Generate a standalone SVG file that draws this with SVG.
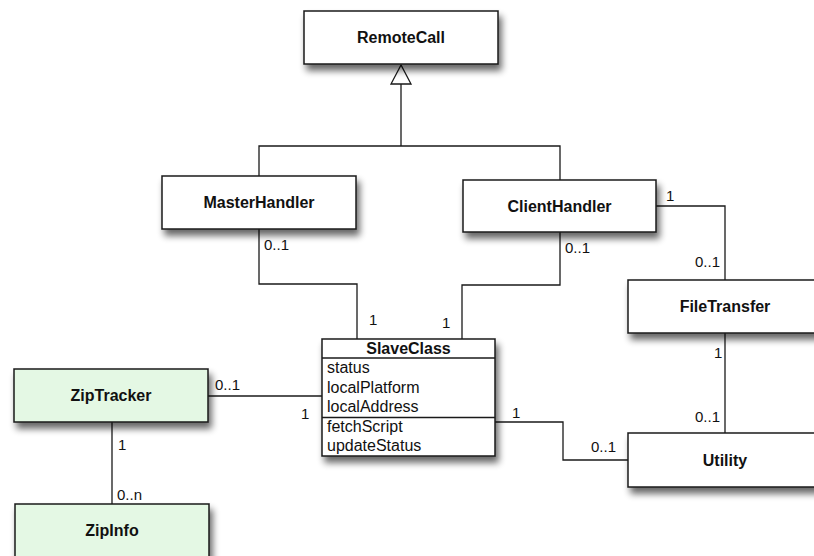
<svg xmlns="http://www.w3.org/2000/svg" width="814" height="556" viewBox="0 0 814 556">
  <defs>
    <filter id="shadow" x="-10%" y="-20%" width="130%" height="160%">
      <feGaussianBlur in="SourceAlpha" stdDeviation="3.5"/>
      <feOffset dx="3" dy="6" result="b"/>
      <feComponentTransfer><feFuncA type="linear" slope="0.6"/></feComponentTransfer>
      <feMerge><feMergeNode/><feMergeNode in="SourceGraphic"/></feMerge>
    </filter>
    <style>
      .box { fill: #ffffff; stroke: #1a1a1a; stroke-width: 1.5; }
      .green { fill: #e4f8e4; }
      .title { font-family: "Liberation Sans", Arial, sans-serif; font-size: 16px; font-weight: bold; fill: #111; text-anchor: middle; }
      .attr { font-family: "Liberation Sans", Arial, sans-serif; font-size: 16px; fill: #111; }
      .mult { font-family: "Liberation Sans", Arial, sans-serif; font-size: 15px; fill: #111; }
      .conn { fill: none; stroke: #1a1a1a; stroke-width: 1.3; }
      .sep { stroke: #1a1a1a; stroke-width: 1.3; }
    </style>
  </defs>
  <rect width="814" height="556" fill="#ffffff"/>

  <g id="connectors">
    <path class="conn" d="M259,176 V146 H560 V180 M401,146 V84"/>
    <polygon points="401,65 391,84 411,84" fill="#ffffff" stroke="#1a1a1a" stroke-width="1.3"/>
    <path class="conn" d="M259,229 V284 H357 V339"/>
    <path class="conn" d="M560,232 V285 H462 V339"/>
    <path class="conn" d="M656,206 H725 V280"/>
    <path class="conn" d="M725,333 V433"/>
    <path class="conn" d="M495,422 H563 V460 H628"/>
    <path class="conn" d="M208,396 H322"/>
    <path class="conn" d="M112,422 V504"/>
    <text class="mult" x="264" y="250">0..1</text>
    <text class="mult" x="369" y="325">1</text>
    <text class="mult" x="565" y="253">0..1</text>
    <text class="mult" x="442" y="328">1</text>
    <text class="mult" x="666" y="201">1</text>
    <text class="mult" x="695" y="267">0..1</text>
    <text class="mult" x="714" y="358">1</text>
    <text class="mult" x="695" y="422">0..1</text>
    <text class="mult" x="512" y="418">1</text>
    <text class="mult" x="591" y="452">0..1</text>
    <text class="mult" x="215" y="390">0..1</text>
    <text class="mult" x="301" y="419">1</text>
    <text class="mult" x="118" y="450">1</text>
    <text class="mult" x="117" y="500">0..n</text>
  </g>

  <g id="RemoteCall">
    <rect class="box" x="304" y="11" width="194" height="53" filter="url(#shadow)"/>
    <text class="title" x="401" y="43">RemoteCall</text>
  </g>
  <g id="MasterHandler">
    <rect class="box" x="162" y="176" width="194" height="53" filter="url(#shadow)"/>
    <text class="title" x="259" y="208">MasterHandler</text>
  </g>
  <g id="ClientHandler">
    <rect class="box" x="463" y="180" width="193" height="52" filter="url(#shadow)"/>
    <text class="title" x="559.5" y="212">ClientHandler</text>
  </g>
  <g id="FileTransfer">
    <rect class="box" x="628" y="280" width="194" height="53" filter="url(#shadow)"/>
    <text class="title" x="725" y="312">FileTransfer</text>
  </g>
  <g id="Utility">
    <rect class="box" x="628" y="433" width="194" height="54" filter="url(#shadow)"/>
    <text class="title" x="725" y="466">Utility</text>
  </g>
  <g id="ZipTracker">
    <rect class="box green" x="14" y="369" width="194" height="53" filter="url(#shadow)"/>
    <text class="title" x="111" y="401">ZipTracker</text>
  </g>
  <g id="ZipInfo">
    <rect class="box green" x="15" y="504" width="194" height="60" filter="url(#shadow)"/>
    <text class="title" x="112" y="536">ZipInfo</text>
  </g>
  <g id="SlaveClass">
    <rect class="box" x="322" y="339" width="173" height="117" filter="url(#shadow)"/>
    <line class="sep" x1="322" y1="358" x2="495" y2="358"/>
    <line class="sep" x1="322" y1="417.5" x2="495" y2="417.5"/>
    <text class="title" x="408.5" y="354">SlaveClass</text>
    <text class="attr" x="327" y="373">status</text>
    <text class="attr" x="327" y="392.5">localPlatform</text>
    <text class="attr" x="327" y="412">localAddress</text>
    <text class="attr" x="327" y="431.5">fetchScript</text>
    <text class="attr" x="327" y="450.5">updateStatus</text>
  </g>
</svg>
